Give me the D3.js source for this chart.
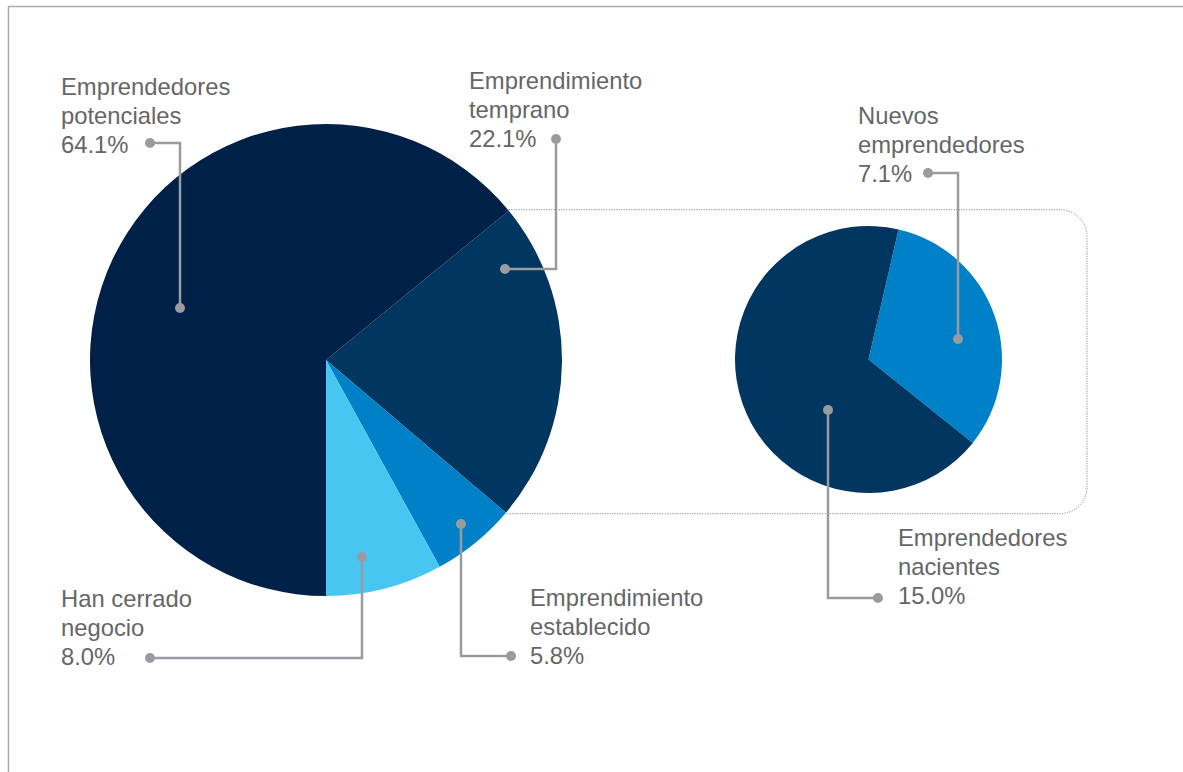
<!DOCTYPE html>
<html>
<head>
<meta charset="utf-8">
<script src="https://cdn.jsdelivr.net/npm/d3@7"></script>
<style>
  body { margin: 0; background: #fff; }
  svg { display: block; }
  text { font-family: "Liberation Sans", Arial, sans-serif; }
</style>
</head>
<body>
<div id="chart"></div>
<script>
// data
var mainCategories = ["Emprendimiento temprano", "Emprendimiento establecido", "Han cerrado negocio", "Emprendedores potenciales"];
var mainValues = [22.1, 5.8, 8.0, 64.1];
var subCategories = ["Nuevos emprendedores", "Emprendedores nacientes"];
var subValues = [7.1, 15.0];

var width = 1183, height = 772;

var svg = d3.select("#chart")
  .append("svg")
    .attr("width", width)
    .attr("height", height);

// frame lines (top + left)
svg.append("path")
  .attr("d", "M8.5,772 L8.5,6.5 L1183,6.5")
  .attr("fill", "none")
  .attr("stroke", "#ababab")
  .attr("stroke-width", 1.5);

var mainColor = d3.scaleOrdinal()
  .domain(mainCategories)
  .range(["#00365f", "#0080c6", "#48c6f2", "#002147"]);
var subColor = d3.scaleOrdinal()
  .domain(subCategories)
  .range(["#0080c6", "#00365f"]);

// big pie
var bigC = [326, 360], bigR = 236;
var before = mainValues[0] + mainValues[1] + mainValues[2];
var bigStart = Math.PI - before / d3.sum(mainValues) * 2 * Math.PI;
var bigPie = d3.pie().sort(null).value(function(d){ return d; })
  .startAngle(bigStart).endAngle(bigStart + 2 * Math.PI);
var bigArcs = bigPie(mainValues);
var bigArc = d3.arc().innerRadius(0).outerRadius(bigR);

// small pie
var smallC = [868.5, 359.5], smallR = 133.5;
var smallStart = 13 * Math.PI / 180;
var smallPie = d3.pie().sort(null).value(function(d){ return d; })
  .startAngle(smallStart).endAngle(smallStart + 2 * Math.PI);
var smallArc = d3.arc().innerRadius(0).outerRadius(smallR);

// dotted connector from the "temprano" slice to the breakdown pie
var a0 = bigArcs[0].startAngle, a1 = bigArcs[0].endAngle;
var p0 = [bigC[0] + bigR * Math.sin(a0), bigC[1] - bigR * Math.cos(a0)];
var p1 = [bigC[0] + bigR * Math.sin(a1), bigC[1] - bigR * Math.cos(a1)];
var bx = 1087, rr = 27;
var conn = d3.path();
conn.moveTo(p0[0], p0[1] - 1);
conn.lineTo(bx - rr, p0[1] - 1);
conn.arcTo(bx, p0[1] - 1, bx, p0[1] - 1 + rr, rr);
conn.lineTo(bx, p1[1] + 1 - rr);
conn.arcTo(bx, p1[1] + 1, bx - rr, p1[1] + 1, rr);
conn.lineTo(p1[0], p1[1] + 1);
svg.append("path")
  .attr("d", conn.toString())
  .attr("fill", "none")
  .attr("stroke", "#777")
  .attr("stroke-width", 1)
  .attr("stroke-dasharray", "1,1.5");

svg.append("g")
  .attr("transform", "translate(" + bigC + ")")
  .selectAll("path")
  .data(bigArcs)
  .enter()
  .append("path")
    .attr("d", bigArc)
    .attr("fill", function(d, i){ return mainColor(mainCategories[i]); });

svg.append("g")
  .attr("transform", "translate(" + smallC + ")")
  .selectAll("path")
  .data(smallPie(subValues))
  .enter()
  .append("path")
    .attr("d", smallArc)
    .attr("fill", function(d, i){ return subColor(subCategories[i]); });

// labels and leader lines
var labels = [
  { lines: ["Emprendedores", "potenciales", "64.1%"], x: 61, y: 95, leader: [[150, 143], [180, 143], [180, 308]] },
  { lines: ["Emprendimiento", "temprano", "22.1%"], x: 469, y: 89, leader: [[556, 139], [556, 269], [505, 269]] },
  { lines: ["Han cerrado", "negocio", "8.0%"], x: 61, y: 607, leader: [[150, 658], [362, 658], [362, 557]] },
  { lines: ["Emprendimiento", "establecido", "5.8%"], x: 530, y: 606, leader: [[511, 656], [461, 656], [461, 524]] },
  { lines: ["Nuevos", "emprendedores", "7.1%"], x: 858, y: 124, leader: [[928, 173], [958, 173], [958, 339]] },
  { lines: ["Emprendedores", "nacientes", "15.0%"], x: 898, y: 546, leader: [[878, 598], [828, 598], [828, 410]] }
];

var lab = svg.append("g").selectAll("g")
  .data(labels)
  .enter()
  .append("g");

lab.append("path")
  .attr("d", function(d){ return d3.line()(d.leader); })
  .attr("fill", "none")
  .attr("stroke", "#9a9ba0")
  .attr("stroke-width", 2.5);

lab.selectAll("circle")
  .data(function(d){ return [d.leader[0], d.leader[d.leader.length - 1]]; })
  .enter()
  .append("circle")
    .attr("cx", function(d){ return d[0]; })
    .attr("cy", function(d){ return d[1]; })
    .attr("r", 5)
    .attr("fill", "#9a9ba0");

lab.append("text")
  .attr("x", function(d){ return d.x; })
  .attr("y", function(d){ return d.y; })
  .attr("fill", "#666666")
  .style("font-size", "23.8px")
  .selectAll("tspan")
  .data(function(d){ return d.lines.map(function(l){ return { t: l, x: d.x }; }); })
  .enter()
  .append("tspan")
    .attr("x", function(d){ return d.x; })
    .attr("dy", function(d, i){ return i === 0 ? 0 : 29; })
    .text(function(d){ return d.t; });
</script>
</body>
</html>
